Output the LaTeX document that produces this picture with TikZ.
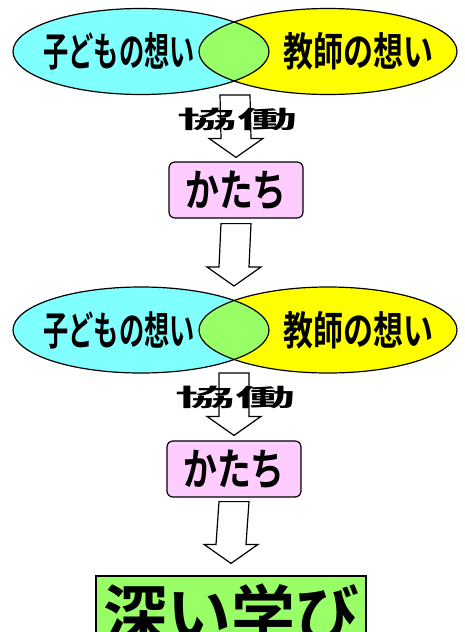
\documentclass[tikz,border=0pt]{standalone}
\usepackage{fontspec}
\newfontfamily\jp{Noto Sans CJK JP}[BoldFont={Noto Sans CJK JP Bold}]
\usetikzlibrary{positioning, calc}
\definecolor{childcyan}{RGB}{128,255,255}
\definecolor{teacheryellow}{RGB}{255,255,0}
\definecolor{sharedgreen}{RGB}{153,255,102}
\definecolor{formpink}{RGB}{255,204,255}
\tikzset{
  thought/.style={
    font=\jp\bfseries\fontsize{40}{40}\selectfont,
    inner sep=0pt,
    transform shape
  },
  together/.style={
    font=\jp\bfseries\fontsize{24}{24}\selectfont,
    inner sep=0pt,
    xscale=2.5,
    transform shape
  },
  formbox/.style={
    draw,
    rectangle,
    rounded corners=6pt,
    line width=1.2pt,
    minimum width=134pt,
    minimum height=56pt,
    inner sep=0pt,
    fill=formpink,
    font=\jp\bfseries\fontsize{44}{44}\selectfont
  },
  goalbox/.style={
    draw,
    rectangle,
    line width=1.2pt,
    minimum width=270pt,
    minimum height=76pt,
    inner sep=0pt,
    fill=sharedgreen,
    font=\jp\bfseries\fontsize{64}{64}\selectfont
  },
  hollow/.style={
    draw,
    fill=white,
    line width=1.2pt,
    line join=miter
  }
}
% big hollow arrow from #1 (top of shaft) to #2 (tip)
\newcommand{\hollowarrow}[2]{%
  \draw[hollow] ($(#1)+(-15,0)$) -- ($(#1)+(15,0)$) -- ($(#2)+(15,-19)$)
    -- ($(#2)+(27,-19)$) -- (#2) -- ($(#2)+(-27,-19)$)
    -- ($(#2)+(-15,-19)$) -- cycle;
}

\begin{document}
\begin{tikzpicture}[x=1pt, y=-1pt]
    \useasboundingbox (0,0) rectangle (465,632);

    % two overlapping thoughts, twice
    \foreach \row/\yy in {1/51.5, 2/330} {
      \fill[childcyan] (141,\yy) ellipse [x radius=128, y radius=43];
      \fill[teacheryellow] (328,\yy) ellipse [x radius=129, y radius=43];
      \begin{scope}
        \clip (141,\yy) ellipse [x radius=128, y radius=43];
        \fill[sharedgreen] (328,\yy) ellipse [x radius=129, y radius=43];
      \end{scope}
      \draw[line width=1.2pt] (141,\yy) ellipse [x radius=128, y radius=43];
      \draw[line width=1.2pt] (328,\yy) ellipse [x radius=129, y radius=43];
      \node[thought, xscale=0.63] (child\row) at (119,\yy) {子どもの想い};
      \node[thought, xscale=0.75] (teacher\row) at (358,\yy) {教師の想い};
    }

    \node[formbox] (form1) at (236,190) {\scalebox{0.77}[1]{かたち}};
    \node[formbox] (form2) at (234,469) {\scalebox{0.77}[1]{かたち}};
    \node[goalbox] (deep) at (231,614) {深い学び};

    \coordinate (split1) at (235,95);
    \coordinate (split2) at (234,373);
    \coordinate (meet2) at (234,286);

    \hollowarrow{split1}{$(form1.north)+(0,-4)$}
    \hollowarrow{$(form1.south)+(0,5)$}{meet2}
    \hollowarrow{split2}{$(form2.north)+(0,-5)$}
    \hollowarrow{$(form2.south)+(0,4)$}{$(deep.north)+(0,-12)$}

    \node[together] (work1) at (237,119) {協働};
    \node[together] (work2) at (235,397) {協働};
\end{tikzpicture}
\end{document}
